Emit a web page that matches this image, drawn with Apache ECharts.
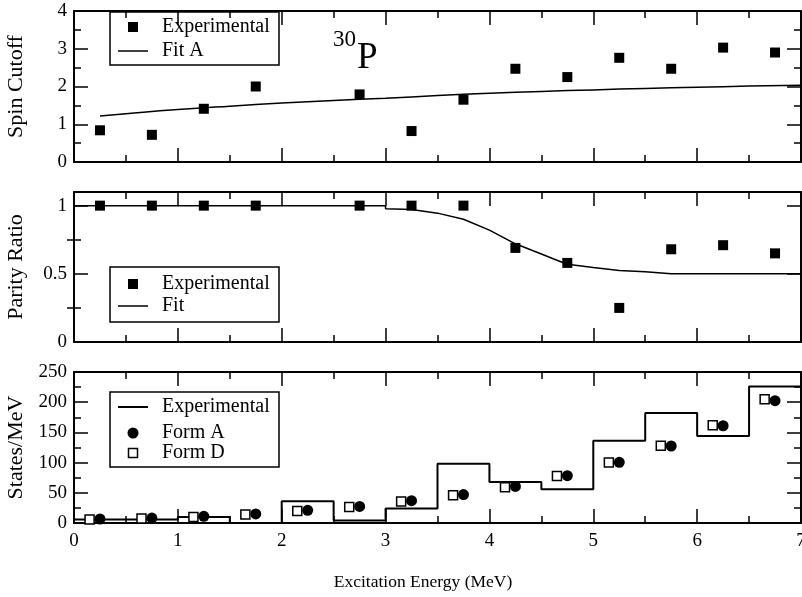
<!DOCTYPE html>
<html>
<head>
<meta charset="utf-8">
<script src="https://cdn.jsdelivr.net/npm/echarts@6/dist/echarts.min.js"></script>
<style>
  html, body { margin: 0; padding: 0; background: #fff; }
  #chart { width: 802px; height: 597px; }
</style>
</head>
<body>
<div id="chart"></div>
<script>
const FONT = 'Liberation Serif';

// ---- Spin cutoff panel ----
const spinEnergy = [0.25, 0.75, 1.25, 1.75, 2.75, 3.25, 3.75, 4.25, 4.75, 5.25, 5.75, 6.25, 6.75];
const spinCutoff = [0.84, 0.72, 1.41, 2.0, 1.79, 0.82, 1.65, 2.47, 2.25, 2.76, 2.47, 3.03, 2.90];
const fitAEnergy = [0.25, 0.5, 1, 1.5, 2, 2.5, 3, 3.5, 4, 4.5, 5, 5.5, 6, 6.5, 7];
const fitA = [1.22, 1.28, 1.39, 1.48, 1.56, 1.63, 1.69, 1.76, 1.82, 1.87, 1.91, 1.95, 1.98, 2.01, 2.03];

// ---- Parity ratio panel ----
const parityEnergy = [0.25, 0.75, 1.25, 1.75, 2.75, 3.25, 3.75, 4.25, 4.75, 5.25, 5.75, 6.25, 6.75];
const parityRatio = [1, 1, 1, 1, 1, 1, 1, 0.69, 0.58, 0.25, 0.68, 0.71, 0.65];
const fitEnergy = [0, 0.5, 1, 1.5, 2, 2.5, 2.75, 3, 3, 3.25, 3.5, 3.75, 4, 4.25, 4.5, 4.65, 4.75, 5, 5.25, 5.5, 5.75, 6, 6.5, 7];
const fitParity = [1, 1, 1, 1, 1, 1, 1, 1, 0.978, 0.972, 0.945, 0.9, 0.82, 0.72, 0.645, 0.6, 0.57, 0.547, 0.525, 0.515, 0.5, 0.5, 0.5, 0.5];

// ---- Level density panel ----
const binEdges = [0, 0.5, 1, 1.5, 2, 2.5, 3, 3.5, 4, 4.5, 5, 5.5, 6, 6.5, 7];
const statesExp = [6, 6, 10, 0, 36, 4, 24, 98, 68, 56, 136, 182, 144, 226];
const formAEnergy = [0.25, 0.75, 1.25, 1.75, 2.25, 2.75, 3.25, 3.75, 4.25, 4.75, 5.25, 5.75, 6.25, 6.75];
const formA = [6.6, 8.2, 11, 15, 21, 27.5, 37, 47, 60.6, 78.3, 100.4, 127.5, 161, 202.5];
const formDEnergy = [0.15, 0.65, 1.15, 1.65, 2.15, 2.65, 3.15, 3.65, 4.15, 4.65, 5.15, 5.65, 6.15, 6.65];
const formD = [6, 7.5, 10, 14, 20, 26.5, 35.5, 46, 59, 78, 100, 128, 162, 205];

// ---- Axis tick labels ----
const energyTicks = [0, 1, 2, 3, 4, 5, 6, 7];
const parityLabels = [0, 0.5, 1];
const parityMinor = [0.25, 0.75];

const pairs = (xs, ys) => xs.map((x, i) => [x, ys[i]]);
const stepData = binEdges.map((e, i) => [e, statesExp[Math.min(i, statesExp.length - 1)]]);

const BLACK = '#000';
const lineStyle = { color: BLACK, width: 2 };
const majorTick = { show: true, inside: true, length: 14, lineStyle: { color: BLACK, width: 1.5 } };
const minorTick = { show: true, splitNumber: 2, length: 7, lineStyle: { color: BLACK, width: 1.5 } };
const labelStyle = { color: BLACK, fontFamily: FONT, fontSize: 19 };

const grids = [
  { left: 74, right: 1, top: 11, height: 151, outerBoundsMode: 'none', containLabel: false },
  { left: 74, right: 1, top: 192, height: 150, outerBoundsMode: 'none', containLabel: false },
  { left: 74, right: 1, top: 372, height: 151, outerBoundsMode: 'none', containLabel: false }
];

const xAxes = [];
grids.forEach((g, gi) => {
  ['bottom', 'top'].forEach(pos => {
    xAxes.push({
      type: 'value', gridIndex: gi, position: pos, min: 0, max: 7, interval: 1,
      axisLine: { show: true, onZero: false, lineStyle },
      axisTick: majorTick, minorTick,
      splitLine: { show: false },
      axisLabel: (gi === 2 && pos === 'bottom')
        ? Object.assign({ show: true, margin: 9, customValues: energyTicks, hideOverlap: false }, labelStyle)
        : { show: false }
    });
  });
});

const yName = (name, gap) => ({
  name, nameLocation: 'middle', nameGap: gap, nameRotate: 90,
  nameTextStyle: { color: BLACK, fontFamily: FONT, fontSize: 22 }
});

const yAxes = [];
// top panel
['left', 'right'].forEach(pos => {
  yAxes.push(Object.assign({
    type: 'value', gridIndex: 0, position: pos, min: 0, max: 4, interval: 1,
    axisLine: { show: true, onZero: false, lineStyle },
    axisTick: majorTick, minorTick, splitLine: { show: false },
    axisLabel: pos === 'left' ? Object.assign({ margin: 7 }, labelStyle) : { show: false }
  }, pos === 'left' ? yName('Spin Cutoff', 47) : {}));
});
// middle panel: major and minor ticks on separate axes (top of range is not a tick)
['left', 'right'].forEach(pos => {
  yAxes.push(Object.assign({
    type: 'value', gridIndex: 1, position: pos, min: 0, max: 1.1,
    axisLine: { show: true, onZero: false, lineStyle },
    axisTick: Object.assign({ customValues: parityLabels }, majorTick),
    splitLine: { show: false },
    axisLabel: pos === 'left'
      ? Object.assign({ margin: 7, customValues: parityLabels }, labelStyle)
      : { show: false }
  }, pos === 'left' ? yName('Parity Ratio', 47) : {}));
  yAxes.push({
    type: 'value', gridIndex: 1, position: pos, min: 0, max: 1.1,
    axisLine: { show: false },
    axisTick: { show: true, inside: true, length: 7, customValues: parityMinor, lineStyle: { color: BLACK, width: 1.5 } },
    splitLine: { show: false }, axisLabel: { show: false }
  });
});
// bottom panel
['left', 'right'].forEach(pos => {
  yAxes.push(Object.assign({
    type: 'value', gridIndex: 2, position: pos, min: 0, max: 250, interval: 50,
    axisLine: { show: true, onZero: false, lineStyle },
    axisTick: majorTick, minorTick, splitLine: { show: false },
    axisLabel: pos === 'left' ? Object.assign({ margin: 7 }, labelStyle) : { show: false }
  }, pos === 'left' ? yName('States/MeV', 47) : {}));
});

const solid = { color: BLACK, opacity: 1 };
const series = [
  { name: 'Experimental', type: 'scatter', xAxisIndex: 0, yAxisIndex: 0, symbol: 'rect', symbolSize: 10,
    itemStyle: solid, data: pairs(spinEnergy, spinCutoff), z: 3 },
  { name: 'Fit A', type: 'line', xAxisIndex: 0, yAxisIndex: 0, showSymbol: false, smooth: true,
    lineStyle: { color: BLACK, width: 1.5 }, data: pairs(fitAEnergy, fitA) },

  { name: 'Experimental', type: 'scatter', xAxisIndex: 2, yAxisIndex: 2, symbol: 'rect', symbolSize: 10,
    itemStyle: solid, data: pairs(parityEnergy, parityRatio), z: 3 },
  { name: 'Fit', type: 'line', xAxisIndex: 2, yAxisIndex: 2, showSymbol: false,
    lineStyle: { color: BLACK, width: 1.5 }, data: pairs(fitEnergy, fitParity) },

  { name: 'Experimental', type: 'line', xAxisIndex: 4, yAxisIndex: 6, showSymbol: false, step: 'end',
    lineStyle: { color: BLACK, width: 2 }, data: stepData },
  { name: 'Form A', type: 'scatter', xAxisIndex: 4, yAxisIndex: 6, symbol: 'circle', symbolSize: 11,
    itemStyle: solid, data: pairs(formAEnergy, formA), z: 3 },
  { name: 'Form D', type: 'scatter', xAxisIndex: 4, yAxisIndex: 6, symbol: 'rect', symbolSize: 9,
    itemStyle: { color: '#fff', opacity: 1, borderColor: BLACK, borderWidth: 1.5 }, data: pairs(formDEnergy, formD), z: 3 }
];

// Boxed keys for each panel
const txt = (x, y, text, size) => ({
  type: 'text', x, y,
  style: { text, fill: BLACK, fontFamily: FONT, fontSize: size || 20, align: 'left', verticalAlign: 'middle' }
});
const box = (x, y, w, h) => ({
  type: 'rect', shape: { x, y, width: w, height: h },
  style: { fill: '#fff', stroke: BLACK, lineWidth: 1.5 }
});
const sq = (cx, cy, s, filled) => ({
  type: 'rect', shape: { x: cx - s / 2, y: cy - s / 2, width: s, height: s },
  style: { fill: filled ? BLACK : '#fff', stroke: BLACK, lineWidth: filled ? 0 : 1.5 }
});
const seg = (x1, x2, y, w) => ({
  type: 'line', shape: { x1, y1: y, x2, y2: y }, style: { stroke: BLACK, lineWidth: w || 1.5 }
});

const graphic = [
  box(110, 12, 169, 53),
  sq(133, 27, 10, true), txt(162, 27, 'Experimental'),
  seg(118, 148, 51), txt(162, 51, 'Fit A'),

  box(110, 267, 169, 55),
  sq(133, 284, 10, true), txt(162, 284, 'Experimental'),
  seg(118, 148, 306), txt(162, 306, 'Fit'),

  box(110, 392, 169, 75),
  seg(118, 148, 407, 2), txt(162, 407, 'Experimental'),
  { type: 'circle', shape: { cx: 133, cy: 433, r: 5.5 }, style: { fill: BLACK } },
  txt(162, 433, 'Form A'),
  sq(133, 453, 9, false), txt(162, 453, 'Form D'),

  // nucleus label
  txt(333, 40, '30', 23),
  txt(357, 58, 'P', 37),

  { type: 'text', x: 423, y: 582,
    style: { text: 'Excitation Energy (MeV)', fill: BLACK, fontFamily: FONT, fontSize: 17.5,
             align: 'center', verticalAlign: 'middle' } }
];

const chart = echarts.init(document.getElementById('chart'), null, { renderer: 'canvas' });
chart.setOption({
  animation: false,
  backgroundColor: '#fff',
  grid: grids,
  xAxis: xAxes,
  yAxis: yAxes,
  series,
  graphic
});
</script>
</body>
</html>
